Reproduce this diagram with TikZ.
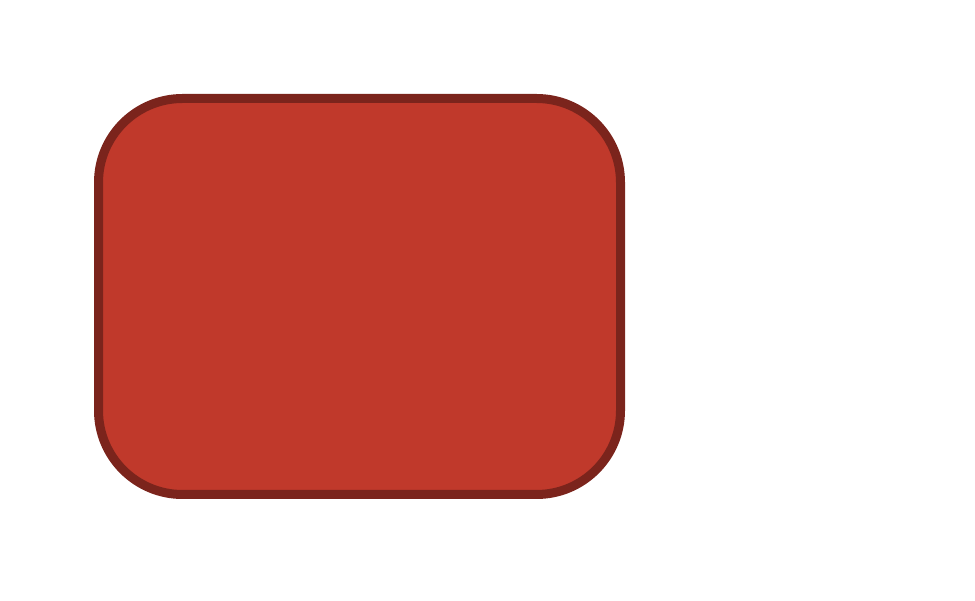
\documentclass[tikz,border=0pt]{standalone}
\definecolor{boxfill}{RGB}{192,57,43}
\definecolor{boxline}{RGB}{123,36,28}
\tikzset{redbox/.style={draw=boxline, fill=boxfill, line width=9pt, rounded corners=84pt, minimum width=522pt, minimum height=396pt, inner sep=0pt, rectangle}}
\begin{document}
\begin{tikzpicture}[x=1pt,y=1pt]
\useasboundingbox (0,0) rectangle (975,600);
\node[redbox] (box) at (359.5,303.5) {};
\end{tikzpicture}
\end{document}
